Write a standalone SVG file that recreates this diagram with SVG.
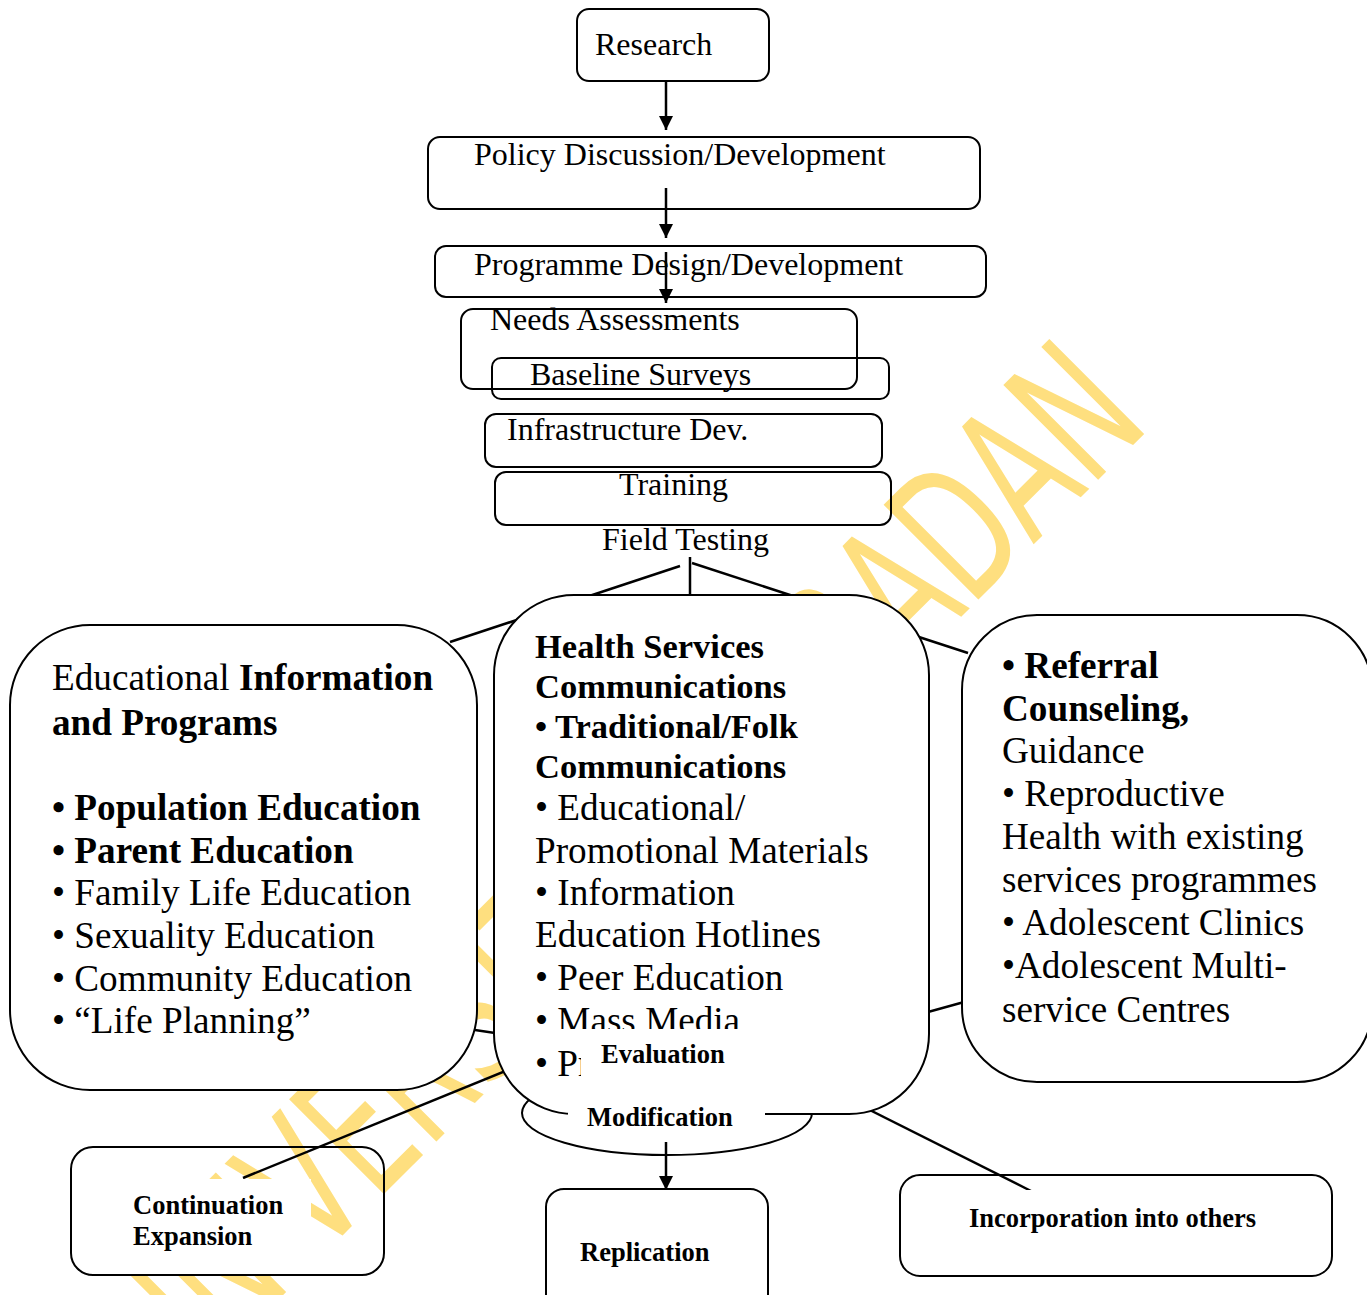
<svg xmlns="http://www.w3.org/2000/svg" width="1367" height="1295" viewBox="0 0 1367 1295">
<style>
.t{font-family:"Liberation Serif","Times New Roman",serif;fill:#000}
.b{font-weight:bold}
.s{fill:none;stroke:#000;stroke-width:2}
.big{fill:#fff;stroke:#000;stroke-width:2}
.ln{fill:none;stroke:#000;stroke-width:2.5}
.wm{font-family:"DejaVu Sans","Liberation Sans",sans-serif;font-size:184px;fill:#FEDF7F}
.f32{font-size:32px}
.f37{font-size:37.2px}
.f34{font-size:34.5px}
.f26{font-size:26.5px}
</style>
<defs>
<marker id="ah" viewBox="0 0 10 10" refX="10" refY="5" markerWidth="15" markerHeight="14" markerUnits="userSpaceOnUse" orient="auto">
<path d="M0,0 L10,5 L0,10 z" fill="#000"/>
</marker>
</defs>
<rect width="1367" height="1295" fill="#fff"/>
<g id="watermark">
<text class="wm" transform="translate(171,1407) rotate(-45) scale(0.64,1)" x="0" y="0">UNIVERSITY OF IBADAN</text>
</g>
<g id="connectors">
<line class="ln" x1="666" y1="82" x2="666" y2="130" marker-end="url(#ah)"/>
<line class="ln" x1="666" y1="188" x2="666" y2="238" marker-end="url(#ah)"/>
<line class="ln" x1="666" y1="252" x2="666" y2="303" marker-end="url(#ah)"/>
<line class="ln" x1="690" y1="557" x2="690" y2="597"/>
<line class="ln" x1="680" y1="566" x2="450" y2="642"/>
<line class="ln" x1="692" y1="563" x2="968" y2="653"/>
<line class="ln" x1="455" y1="1027" x2="515" y2="1036"/>
<line class="ln" x1="910" y1="1017" x2="975" y2="999"/>
<line class="ln" x1="520" y1="1065" x2="243" y2="1178"/>
<line class="ln" x1="800" y1="1075" x2="1031" y2="1191"/>
<line class="ln" x1="666" y1="1142" x2="666" y2="1190" marker-end="url(#ah)"/>
</g>
<g id="research">
<rect class="s" x="577" y="9" width="192" height="72" rx="12"/>
<text class="t f32" x="595" y="55">Research</text>
</g>
<g id="policy">
<rect class="s" x="428" y="137" width="552" height="72" rx="12"/>
<text class="t f32" x="474" y="165">Policy Discussion/Development</text>
</g>
<g id="programme">
<rect class="s" x="435" y="246" width="551" height="51" rx="11"/>
<text class="t f32" x="474" y="275">Programme Design/Development</text>
</g>
<g id="needs">
<rect class="s" x="461" y="309" width="396" height="80" rx="12"/>
<text class="t f32" x="490" y="330">Needs Assessments</text>
</g>
<g id="baseline">
<rect class="s" x="492" y="358" width="397" height="41" rx="9"/>
<text class="t f32" x="530" y="385">Baseline Surveys</text>
</g>
<g id="infrastructure">
<rect class="s" x="485" y="414" width="397" height="53" rx="11"/>
<text class="t f32" x="507" y="440">Infrastructure Dev.</text>
</g>
<g id="training">
<rect class="s" x="495" y="472" width="396" height="53" rx="11"/>
<text class="t f32" x="619" y="495">Training</text>
</g>
<g id="field-testing">
<text class="t f32" x="602" y="550">Field Testing</text>
</g>
<g id="modification">
<ellipse class="s" cx="667" cy="1113" rx="145" ry="42"/>
</g>
<g id="educational">
<rect class="big" x="10" y="625" width="467" height="465" rx="80"/>
<text class="t f37" x="52" y="690">Educational <tspan class="b">Information</tspan></text>
<text class="t f37 b" x="52" y="735">and Programs</text>
<text class="t f37 b" x="52" y="820">• Population Education</text>
<text class="t f37 b" x="52" y="863">• Parent Education</text>
<text class="t f37" x="52" y="905">• Family Life Education</text>
<text class="t f37" x="52" y="948">• Sexuality Education</text>
<text class="t f37" x="52" y="991">• Community Education</text>
<text class="t f37" x="52" y="1033">• “Life Planning”</text>
</g>
<g id="referral">
<rect class="big" x="962" y="615" width="410" height="467" rx="75"/>
<text class="t f37 b" x="1002" y="678">• Referral</text>
<text class="t f37 b" x="1002" y="721">Counseling,</text>
<text class="t f37" x="1002" y="763">Guidance</text>
<text class="t f37" x="1002" y="806">• Reproductive</text>
<text class="t f37" x="1002" y="849">Health with existing</text>
<text class="t f37" x="1002" y="892">services programmes</text>
<text class="t f37" x="1002" y="935">• Adolescent Clinics</text>
<text class="t f37" x="1002" y="978">•Adolescent Multi-</text>
<text class="t f37" x="1002" y="1022">service Centres</text>
</g>
<g id="health">
<rect class="big" x="494" y="595" width="435" height="519" rx="80"/>
<text class="t f34 b" x="535" y="658">Health Services</text>
<text class="t f34 b" x="535" y="698">Communications</text>
<text class="t f34 b" x="535" y="738">• Traditional/Folk</text>
<text class="t f34 b" x="535" y="778">Communications</text>
<text class="t f37" x="535" y="820">• Educational/</text>
<text class="t f37" x="535" y="863">Promotional Materials</text>
<text class="t f37" x="535" y="905">• Information</text>
<text class="t f37" x="535" y="947">Education Hotlines</text>
<text class="t f37" x="535" y="990">• Peer Education</text>
<text class="t f37" x="535" y="1033">• Mass Media</text>
<text class="t f37" x="535" y="1076">• Pr</text>
</g>
<g id="evaluation">
<rect x="552" y="1029" width="330" height="14" fill="#fff"/>
<rect x="581" y="1029" width="301" height="60" fill="#fff"/>
<text class="t f26 b" x="601" y="1063">Evaluation</text>
</g>
<g id="modification-label">
<rect x="568" y="1098" width="197" height="36" fill="#fff"/>
<text class="t f26 b" x="587" y="1126">Modification</text>
</g>
<g id="replication">
<rect class="s" x="546" y="1189" width="222" height="130" rx="18"/>
<text class="t f26 b" x="580" y="1261">Replication</text>
</g>
<g id="incorporation">
<rect class="s" x="900" y="1175" width="432" height="101" rx="20"/>
<rect x="930" y="1190" width="360" height="60" fill="#fff"/>
<text class="t f26 b" x="969" y="1227">Incorporation into others</text>
</g>
<g id="continuation">
<rect class="s" x="71" y="1147" width="313" height="128" rx="22"/>
<rect x="113" y="1179" width="198" height="95" fill="#fff"/>
<text class="t f26 b" x="133" y="1214">Continuation</text>
<text class="t f26 b" x="133" y="1245">Expansion</text>
</g>
</svg>
